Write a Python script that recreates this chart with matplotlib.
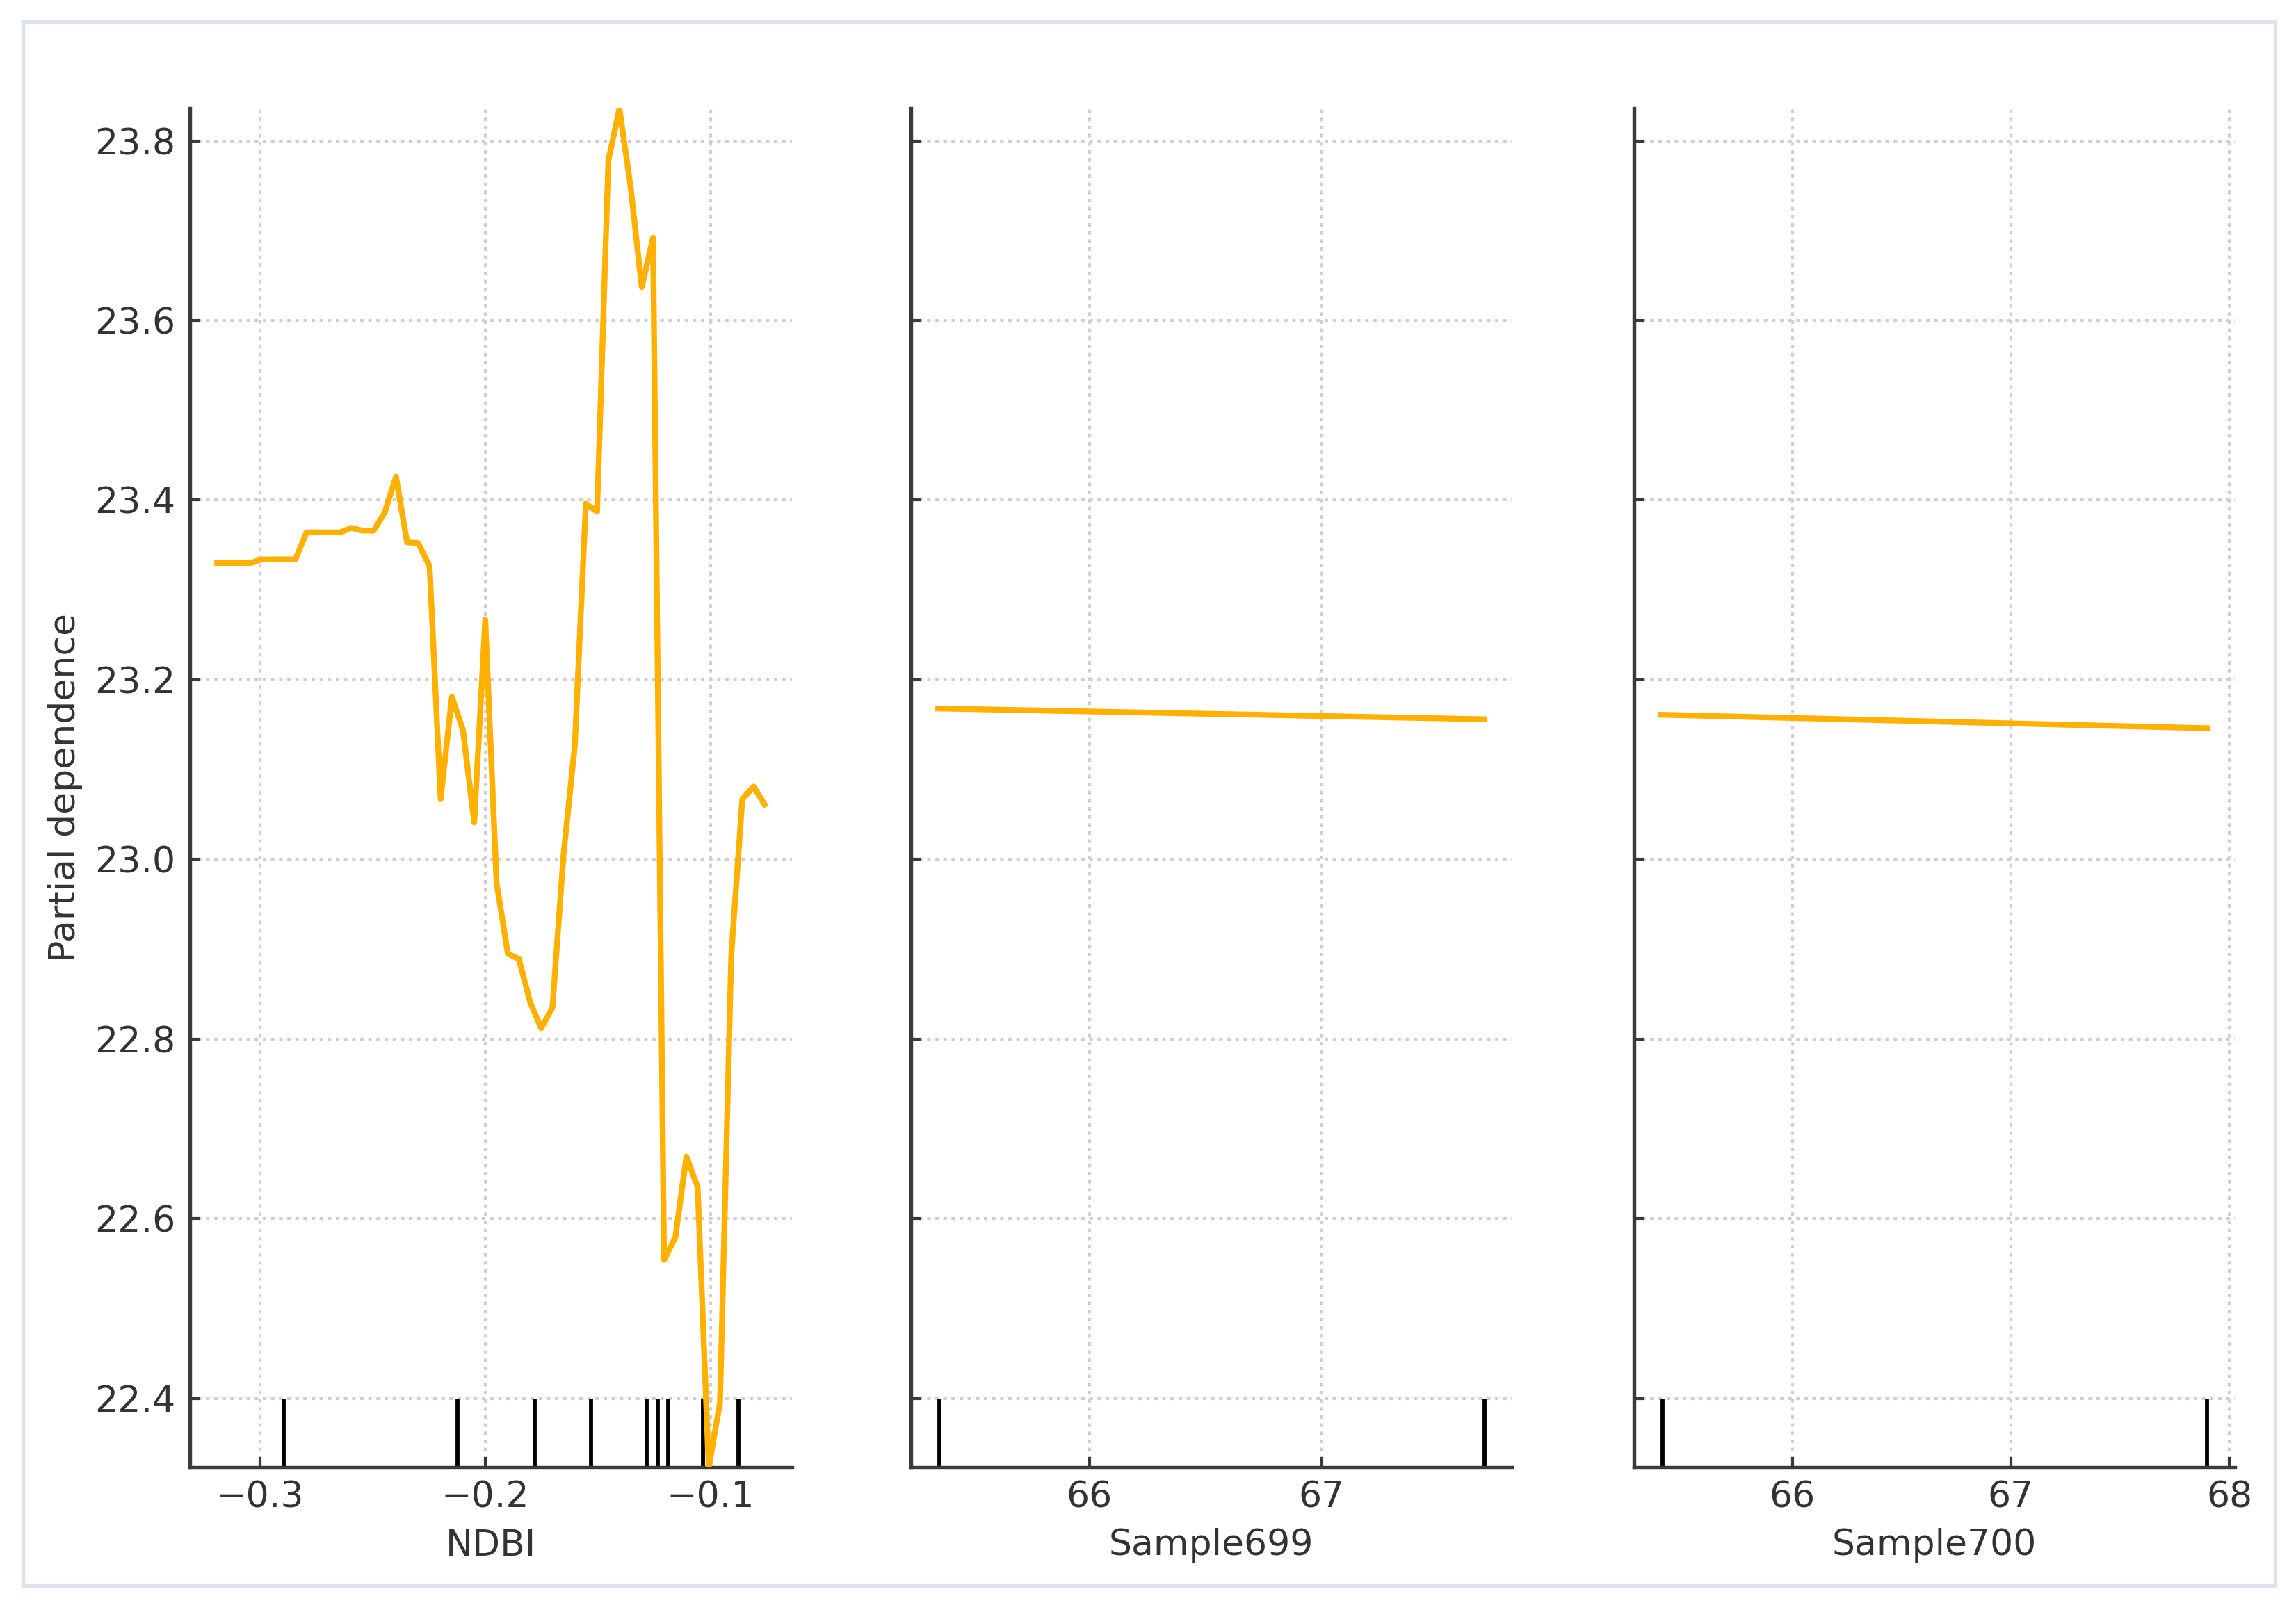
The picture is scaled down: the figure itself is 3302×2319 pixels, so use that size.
import matplotlib
matplotlib.use("Agg")
import matplotlib.pyplot as plt
from matplotlib.patches import Rectangle
from matplotlib.ticker import FixedLocator, FuncFormatter

# ---------------- data ----------------
ndbi_grid = [-0.3189, -0.3139, -0.3090, -0.3040, -0.2991, -0.2941, -0.2892, -0.2842, -0.2793, -0.2743,
             -0.2693, -0.2644, -0.2594, -0.2545, -0.2495, -0.2446, -0.2396, -0.2347, -0.2297, -0.2247,
             -0.2198, -0.2148, -0.2099, -0.2049, -0.2000, -0.1950, -0.1900, -0.1851, -0.1801, -0.1752,
             -0.1702, -0.1653, -0.1603, -0.1554, -0.1504, -0.1454, -0.1405, -0.1355, -0.1306, -0.1256,
             -0.1207, -0.1157, -0.1108, -0.1058, -0.1009, -0.0959, -0.0909, -0.0860, -0.0810, -0.0761]
ndbi_pd = [23.330, 23.330, 23.330, 23.330, 23.334, 23.334, 23.334, 23.334, 23.364, 23.364,
           23.364, 23.364, 23.369, 23.366, 23.366, 23.386, 23.426, 23.353, 23.352, 23.326,
           23.067, 23.181, 23.144, 23.041, 23.267, 22.974, 22.895, 22.889, 22.841, 22.812,
           22.835, 23.005, 23.126, 23.396, 23.387, 23.778, 23.836, 23.748, 23.637, 23.692,
           22.554, 22.579, 22.669, 22.635, 22.323, 22.395, 22.893, 23.067, 23.081, 23.061]
ndbi_deciles = [-0.2894, -0.2122, -0.1782, -0.1531, -0.1283, -0.1235, -0.1190, -0.1035, -0.0876]

s699_grid = [65.35, 67.70]
s699_pd = [23.168, 23.156]
s699_deciles = [65.355, 67.70]

s700_grid = [65.40, 67.90]
s700_pd = [23.161, 23.146]
s700_deciles = [65.405, 67.898]

feature_names = ["NDBI", "Sample699", "Sample700"]
y_ticks = [22.4, 22.6, 22.8, 23.0, 23.2, 23.4, 23.6, 23.8]
x_ticks = [[-0.3, -0.2, -0.1], [66, 67], [66, 67, 68]]
y_label = "Partial dependence"

# ---------------- style ----------------
plt.rcParams['font.family'] = ['DejaVu Sans']
FS = 12.5
LINE_COLOR = "#FFB000"
TXT = "#333333"
SPINE = "#3a3a3a"

W, H = 3302, 2319
DPI = 300
fig = plt.figure(figsize=(W / DPI, H / DPI), dpi=DPI)
fig.patch.set_facecolor("white")

# outer light frame
fig.patches.append(Rectangle((33 / W, 1 - 2281 / H), (3272 - 33) / W, (2281 - 31) / H,
                             transform=fig.transFigure, fill=False,
                             edgecolor="#dde3ec", linewidth=1.3, zorder=0))

bottom = 1 - 2111 / H
height = (2111 - 156) / H
lefts = [273, 1310, 2350]
rights = [1139, 2174, 3214]

grids = [ndbi_grid, s699_grid, s700_grid]
pds = [ndbi_pd, s699_pd, s700_pd]
decs = [ndbi_deciles, s699_deciles, s700_deciles]

ymin = min(min(p) for p in pds)
ymax = max(max(p) for p in pds)

axes = []
for i in range(3):
    ax = fig.add_axes([lefts[i] / W, bottom, (rights[i] - lefts[i]) / W, height])
    axes.append(ax)
    ax.plot(grids[i], pds[i], color=LINE_COLOR, linewidth=2.0, zorder=3)
    trans = ax.get_xaxis_transform()
    ax.vlines(decs[i], 0, 0.05, transform=trans, color="k", linewidth=1.4, zorder=2)
    ax.set_ylim(ymin, ymax)
    ax.xaxis.set_major_locator(FixedLocator(x_ticks[i]))
    ax.yaxis.set_major_locator(FixedLocator(y_ticks))
    ax.grid(True, linestyle=(0, (1.2, 1.6)), color="#cfcfcf", linewidth=1.0, zorder=0)
    ax.set_axisbelow(True)
    for s in ["top", "right"]:
        ax.spines[s].set_visible(False)
    for s in ["left", "bottom"]:
        ax.spines[s].set_color(SPINE)
        ax.spines[s].set_linewidth(1.3)
    ax.tick_params(direction="in", length=3.6, width=1.0, color=SPINE,
                   labelsize=FS, labelcolor=TXT, pad=5)
    ax.tick_params(axis="x", pad=4.5)
    ax.set_xlabel(feature_names[i], fontsize=FS, color=TXT, labelpad=4.5)
    if i == 0:
        ax.yaxis.set_major_formatter(FuncFormatter(lambda v, p: f"{v:.1f}"))
        ax.set_ylabel(y_label, fontsize=FS, color=TXT, labelpad=4)
    else:
        ax.tick_params(axis="y", labelleft=False)

axes[0].xaxis.set_major_formatter(FuncFormatter(lambda v, p: f"{v:.1f}".replace("-", "\u2212")))

fig.savefig("out.png", dpi=DPI)
